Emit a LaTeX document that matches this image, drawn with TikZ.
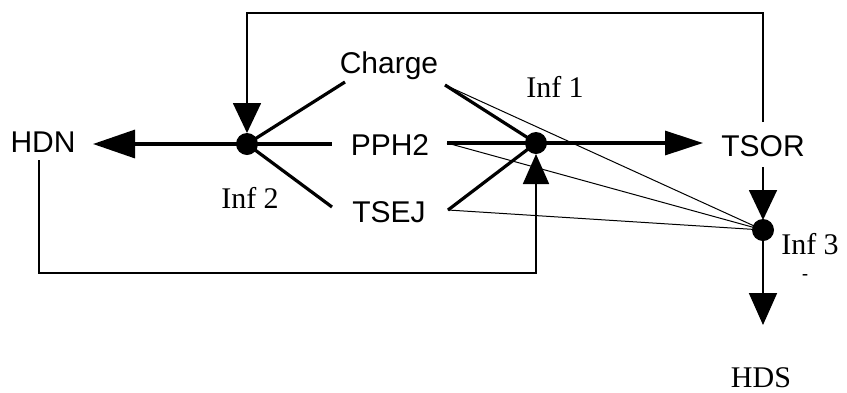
\documentclass[tikz,border=0pt]{standalone}
\usepackage{fontspec}
\setmainfont{Liberation Serif}
\newfontfamily\lsans{Liberation Sans}
\usetikzlibrary{arrows.meta}
\begin{document}
\begin{tikzpicture}[x=1pt,y=-1pt,
  sanslab/.style={font=\lsans\fontsize{30}{32}\selectfont, inner sep=0pt, anchor=base},
  seriflab/.style={font=\fontsize{30}{32}\selectfont, inner sep=0pt, anchor=base},
  dotnode/.style={circle, fill=black, minimum size=22pt, inner sep=0pt},
  thickln/.style={line width=3.2pt},
  thinln/.style={line width=1pt},
  loopln/.style={line width=1.8pt},
]
\useasboundingbox (0,0) rectangle (847,392);
% text labels
\node[sanslab] (hdn) at (43,152) {HDN};
\node[sanslab] (chg) at (389,73) {Charge};
\node[sanslab] (pph) at (390,155) {PPH2};
\node[sanslab] (tsej) at (389,222) {TSEJ};
\node[sanslab] (tsor) at (763,156) {TSOR};
\node[seriflab] (l1) at (555,97) {Inf 1};
\node[seriflab] (l2) at (250,208) {Inf 2};
\node[seriflab] (l3) at (810,254) {Inf 3};
\node[font=\bfseries\fontsize{18}{18}\selectfont, inner sep=0pt, anchor=base] (dash) at (805,279) {-};
\node[seriflab] (hds) at (761,387) {HDS};
% connector end points
\coordinate (hdnTip) at (93,144);
\coordinate (hdnBot) at (39,160);
\coordinate (botL) at (39,273);
\coordinate (i1Bot) at (536,154);
\coordinate (tsorTop) at (763,122);
\coordinate (topL) at (247,13);
\coordinate (i2Top) at (247,133);
\coordinate (chgL) at (345,82);
\coordinate (pphL) at (332,144);
\coordinate (tsejL) at (332,207);
\coordinate (chgR) at (445,85);
\coordinate (pphR) at (447,143);
\coordinate (tsejR) at (448,210);
\coordinate (tsorTip) at (703,143);
\coordinate (tsorBot) at (763,167);
\coordinate (i3Top) at (763,220);
\coordinate (hdsTip) at (763,325);
% dots (positions)
\coordinate (i2c) at (247,144);
\coordinate (i1c) at (536,143);
\coordinate (i3c) at (763,230);
% loops
\draw[loopln, -{Triangle[length=30pt,width=28pt]}] (tsorTop) |- (topL) -- (i2Top);
\draw[loopln, -{Triangle[length=30pt,width=26pt]}] (hdnBot) -- (botL) -| (i1Bot);
% Inf 2 connectors
\draw[thickln, -{Triangle[length=42pt,width=28pt]}] (i2c) -- (hdnTip);
\draw[thickln] (i2c) -- (chgL);
\draw[thickln] (i2c) -- (pphL);
\draw[thickln] (i2c) -- (tsejL);
% Inf 1 connectors
\draw[thickln] (chgR) -- (i1c);
\draw[thickln] (pphR) -- (i1c);
\draw[thickln] (tsejR) -- (i1c);
\draw[thickln, -{Triangle[length=38pt,width=24pt]}] (i1c) -- (tsorTip);
% Inf 3 connectors
\draw[thinln] (chgR) -- (i3c);
\draw[thinln] (pphR) -- (i3c);
\draw[thinln] (tsejR) -- (i3c);
\draw[loopln, -{Triangle[length=30pt,width=28pt]}] (tsorBot) -- (i3Top);
\draw[loopln, -{Triangle[length=32pt,width=28pt]}] (i3c) -- (hdsTip);
% dots
\node[dotnode] (i2) at (i2c) {};
\node[dotnode] (i1) at (i1c) {};
\node[dotnode] (i3) at (i3c) {};
\end{tikzpicture}
\end{document}
